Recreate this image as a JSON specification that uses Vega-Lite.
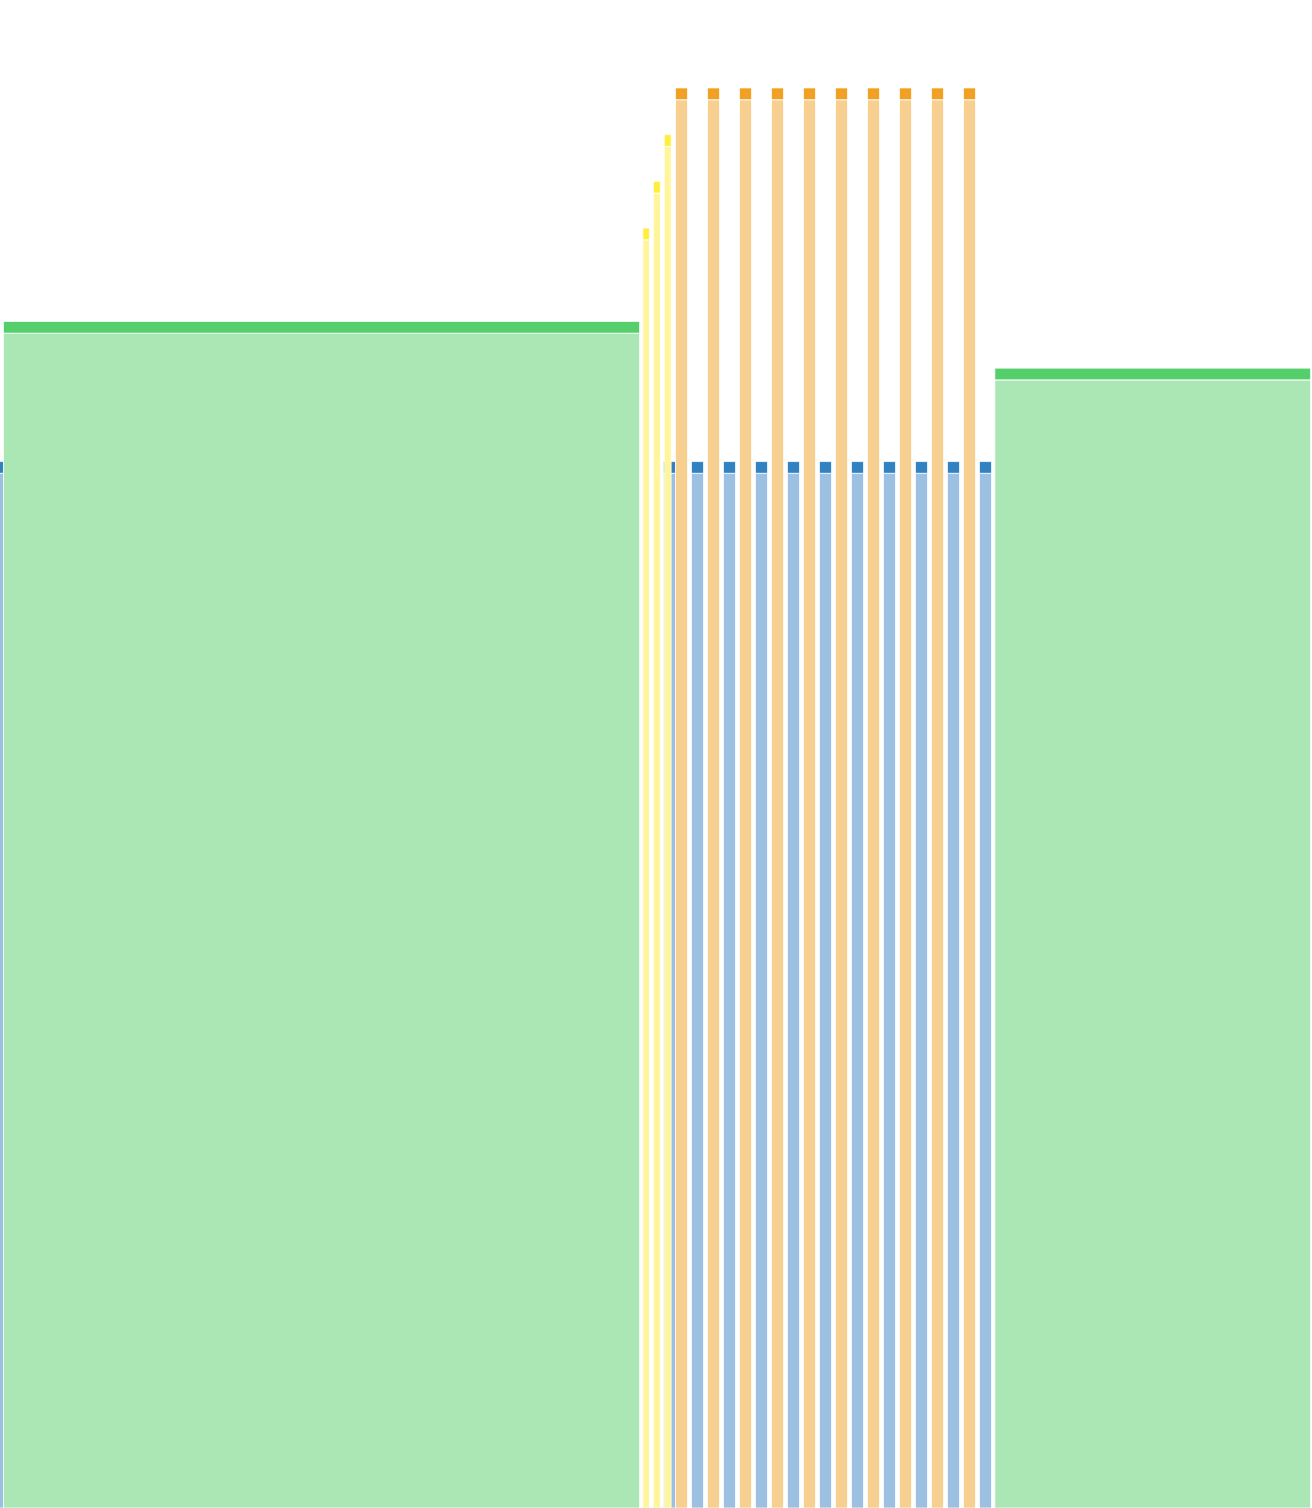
{
  "$schema": "https://vega.github.io/schema/vega-lite/v6.json",
  "width": 1312,
  "height": 1508,
  "padding": 0,
  "autosize": {"type": "none"},
  "data": {
    "values": [
      {"series": "blue", "start": -0.375, "end": 0.125, "value": 22},
      {"series": "blue", "start": 20.625, "end": 21.125, "value": 22},
      {"series": "blue", "start": 21.5, "end": 22, "value": 22},
      {"series": "blue", "start": 22.5, "end": 23, "value": 22},
      {"series": "blue", "start": 23.5, "end": 24, "value": 22},
      {"series": "blue", "start": 24.5, "end": 25, "value": 22},
      {"series": "blue", "start": 25.5, "end": 26, "value": 22},
      {"series": "blue", "start": 26.5, "end": 27, "value": 22},
      {"series": "blue", "start": 27.5, "end": 28, "value": 22},
      {"series": "blue", "start": 28.5, "end": 29, "value": 22},
      {"series": "blue", "start": 29.5, "end": 30, "value": 22},
      {"series": "blue", "start": 30.5, "end": 31, "value": 22},
      {"series": "orange", "start": 21, "end": 21.5, "value": 30},
      {"series": "orange", "start": 22, "end": 22.5, "value": 30},
      {"series": "orange", "start": 23, "end": 23.5, "value": 30},
      {"series": "orange", "start": 24, "end": 24.5, "value": 30},
      {"series": "orange", "start": 25, "end": 25.5, "value": 30},
      {"series": "orange", "start": 26, "end": 26.5, "value": 30},
      {"series": "orange", "start": 27, "end": 27.5, "value": 30},
      {"series": "orange", "start": 28, "end": 28.5, "value": 30},
      {"series": "orange", "start": 29, "end": 29.5, "value": 30},
      {"series": "orange", "start": 30, "end": 30.5, "value": 30},
      {"series": "yellow", "start": 19.98, "end": 20.31, "value": 27},
      {"series": "yellow", "start": 20.31, "end": 20.65, "value": 28},
      {"series": "yellow", "start": 20.65, "end": 20.99, "value": 29},
      {"series": "green", "start": 0, "end": 20, "value": 25},
      {"series": "green", "start": 30.98, "end": 40.97, "value": 24}
    ]
  },
  "encoding": {
    "x": {"field": "start", "type": "quantitative", "axis": null,
      "scale": {"domain": [0, 41], "nice": false, "zero": false}},
    "x2": {"field": "end"}
  },
  "layer": [
    {
      "transform": [{"filter": "datum.series == 'blue'"}],
      "mark": {"type": "rect", "stroke": "white", "strokeWidth": 1, "strokeOpacity": 0.7, "xOffset": 3.5, "x2Offset": -0.5, "clip": true},
      "encoding": {
        "y": {"field": "value", "type": "quantitative", "axis": null,
          "scale": {"domain": [-0.15, 32.14], "nice": false, "zero": false}},
        "y2": {"datum": -0.15},
        "color": {"value": "#9bc0e1"}
      }
    },
    {
      "transform": [{"filter": "datum.series == 'blue'"}],
      "mark": {"type": "rect", "stroke": "white", "strokeWidth": 1, "strokeOpacity": 0.7, "xOffset": 3.5, "x2Offset": -0.5, "yOffset": -12, "y2Offset": -0.3, "clip": true},
      "encoding": {
        "y": {"field": "value", "type": "quantitative", "axis": null,
          "scale": {"domain": [-0.15, 32.14], "nice": false, "zero": false}},
        "y2": {"field": "value"},
        "color": {"value": "#3182c3"}
      }
    },
    {
      "transform": [{"filter": "datum.series != 'blue'"}],
      "mark": {"type": "rect", "stroke": "white", "strokeWidth": 1, "strokeOpacity": 0.7, "xOffset": 3.5, "x2Offset": -0.5, "clip": true},
      "encoding": {
        "y": {"field": "value", "type": "quantitative", "axis": null,
          "scale": {"domain": [-0.15, 32.14], "nice": false, "zero": false}},
        "y2": {"datum": -0.15},
        "color": {"field": "series", "type": "nominal", "legend": null,
          "scale": {"domain": ["orange", "yellow", "green"], "range": ["#f7cf8f", "#fff59b", "#abe7b4"]}}
      }
    },
    {
      "transform": [{"filter": "datum.series != 'blue'"}],
      "mark": {"type": "rect", "stroke": "white", "strokeWidth": 1, "strokeOpacity": 0.7, "xOffset": 3.5, "x2Offset": -0.5, "yOffset": -12, "y2Offset": -0.3, "clip": true},
      "encoding": {
        "y": {"field": "value", "type": "quantitative", "axis": null,
          "scale": {"domain": [-0.15, 32.14], "nice": false, "zero": false}},
        "y2": {"field": "value"},
        "color": {"field": "series", "type": "nominal", "legend": null,
          "scale": {"domain": ["orange", "yellow", "green"], "range": ["#f0a023", "#ffee3b", "#55cf6b"]}}
      }
    }
  ],
  "resolve": {"scale": {"color": "independent"}},
  "config": {
    "view": {"stroke": null},
    "axis": {"grid": false}
  }
}
